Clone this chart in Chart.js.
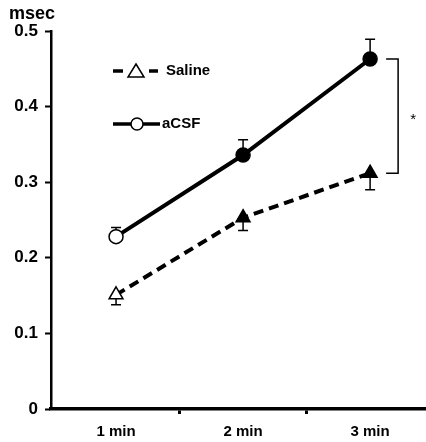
<!DOCTYPE html>
<html lang="en">
<head>
<meta charset="UTF-8">
<title>msec chart</title>
<script src="https://cdn.jsdelivr.net/npm/chart.js"></script>
<style>
    html, body { margin: 0; padding: 0; background: #fff; overflow: hidden; }
    canvas { display: block; }
</style>
</head>
<body>
<canvas id="chart" width="426" height="442"></canvas>
<script>
    const categories = ['1 min', '2 min', '3 min'];
    const yTicks = [0, 0.1, 0.2, 0.3, 0.4, 0.5];
    const acsf = [0.228, 0.336, 0.463];
    const acsfErr = [0.012, 0.020, 0.026];
    const saline = [0.151, 0.253, 0.312];
    const salineErr = [0.013, 0.017, 0.022];

    const FONT = '"Liberation Sans", Arial, sans-serif';

    function pts(vals) {
        return vals.map((v, i) => ({ x: i + 1, y: v }));
    }

    // error bars (behind the markers), bracket, legend and unit label
    const extras = {
        id: 'extras',
        beforeDatasetsDraw(chart) {
            const c = chart.ctx;
            const xs = chart.scales.x, ys = chart.scales.y;
            c.save();
            c.strokeStyle = '#000';
            c.lineWidth = 1.5;
            const bar = (i, v, e, dir) => {
                const x = xs.getPixelForValue(i + 1);
                const y0 = ys.getPixelForValue(v);
                const y1 = ys.getPixelForValue(v + dir * e);
                c.beginPath();
                c.moveTo(x, y0); c.lineTo(x, y1);
                c.moveTo(x - 5, y1); c.lineTo(x + 5, y1);
                c.stroke();
            };
            acsf.forEach((v, i) => bar(i, v, acsfErr[i], 1));
            saline.forEach((v, i) => bar(i, v, salineErr[i], -1));
            c.restore();
        },
        afterDatasetsDraw(chart) {
            const c = chart.ctx;
            const xs = chart.scales.x, ys = chart.scales.y;
            c.save();
            c.strokeStyle = '#000';
            c.lineWidth = 1.5;

            // significance bracket at 3 min
            const xb = xs.getPixelForValue(3);
            const ya = ys.getPixelForValue(acsf[2]);
            const ysal = ys.getPixelForValue(saline[2]);
            c.beginPath();
            c.moveTo(xb + 16, ya); c.lineTo(xb + 28, ya);
            c.lineTo(xb + 28, ysal); c.lineTo(xb + 16, ysal);
            c.stroke();
            c.fillStyle = '#000';
            c.font = '15px ' + FONT;
            c.textAlign = 'center';
            c.textBaseline = 'middle';
            c.fillText('*', xb + 43, (ya + ysal) / 2 + 4);

            // legend
            c.lineWidth = 3.5;
            c.beginPath();
            c.moveTo(113, 71); c.lineTo(123, 71);
            c.moveTo(149, 71); c.lineTo(158, 71);
            c.stroke();
            c.lineWidth = 1.5;
            c.beginPath();
            c.moveTo(136, 64); c.lineTo(144, 77); c.lineTo(128, 77); c.closePath();
            c.fillStyle = '#fff'; c.fill(); c.stroke();
            c.lineWidth = 3.5;
            c.beginPath();
            c.moveTo(113, 124); c.lineTo(160, 124);
            c.stroke();
            c.lineWidth = 1.5;
            c.beginPath();
            c.arc(137, 124, 6, 0, Math.PI * 2);
            c.fillStyle = '#fff'; c.fill(); c.stroke();
            c.fillStyle = '#000';
            c.font = 'bold 15px ' + FONT;
            c.textAlign = 'left';
            c.fillText('Saline', 166, 71);
            c.fillText('aCSF', 162, 124);

            // unit
            c.font = 'bold 18px ' + FONT;
            c.textBaseline = 'alphabetic';
            c.fillText('msec', 9, 19);
            c.restore();
        }
    };

    new Chart(document.getElementById('chart'), {
        type: 'line',
        data: {
            datasets: [
                {
                    label: 'aCSF',
                    data: pts(acsf),
                    borderColor: '#000',
                    borderWidth: 4,
                    pointStyle: 'circle',
                    pointRadius: 7,
                    pointBorderWidth: 1.5,
                    pointBorderColor: '#000',
                    pointBackgroundColor: ['#fff', '#000', '#000'],
                    tension: 0
                },
                {
                    label: 'Saline',
                    data: pts(saline),
                    borderColor: '#000',
                    borderWidth: 4,
                    borderDash: [10, 6],
                    pointStyle: 'triangle',
                    pointRadius: 8,
                    pointBorderWidth: 1.5,
                    pointBorderColor: '#000',
                    pointBackgroundColor: ['#fff', '#000', '#000'],
                    tension: 0
                }
            ]
        },
        options: {
            responsive: false,
            animation: false,
            layout: { autoPadding: false, padding: { top: 31, right: 0, left: 0, bottom: 0 } },
            plugins: { legend: { display: false }, tooltip: { enabled: false } },
            scales: {
                x: {
                    type: 'linear',
                    min: 0.488,
                    max: 3.44,
                    afterBuildTicks: s => { s.ticks = [1, 1.5, 2, 2.5, 3].map(v => ({ value: v })); },
                    afterFit: s => { s.height = 33; s.paddingLeft = 0; s.paddingRight = 0; },
                    border: { display: true, color: '#000', width: 3.5 },
                    grid: {
                        drawOnChartArea: false,
                        tickLength: 5,
                        tickWidth: 3,
                        tickColor: ctx => (ctx.tick && ctx.tick.value % 1 !== 0) ? '#000' : 'rgba(0,0,0,0)'
                    },
                    ticks: {
                        autoSkip: false,
                        maxRotation: 0,
                        padding: 9,
                        color: '#000',
                        font: { family: FONT, size: 15, weight: 'bold' },
                        callback: v => (v % 1 === 0 ? categories[v - 1] : '')
                    }
                },
                y: {
                    min: 0,
                    max: 0.5,
                    afterBuildTicks: s => { s.ticks = yTicks.map(v => ({ value: v })); },
                    afterFit: s => { s.width = 51; },
                    border: { display: true, color: '#000', width: 2.5 },
                    grid: { drawOnChartArea: false, tickLength: 6, tickWidth: 2, tickColor: '#000' },
                    ticks: {
                        padding: 7,
                        color: '#000',
                        font: { family: FONT, size: 17, weight: 'bold' },
                        callback: v => String(Math.round(v * 10) / 10)
                    }
                }
            }
        },
        plugins: [extras]
    });
</script>
</body>
</html>
